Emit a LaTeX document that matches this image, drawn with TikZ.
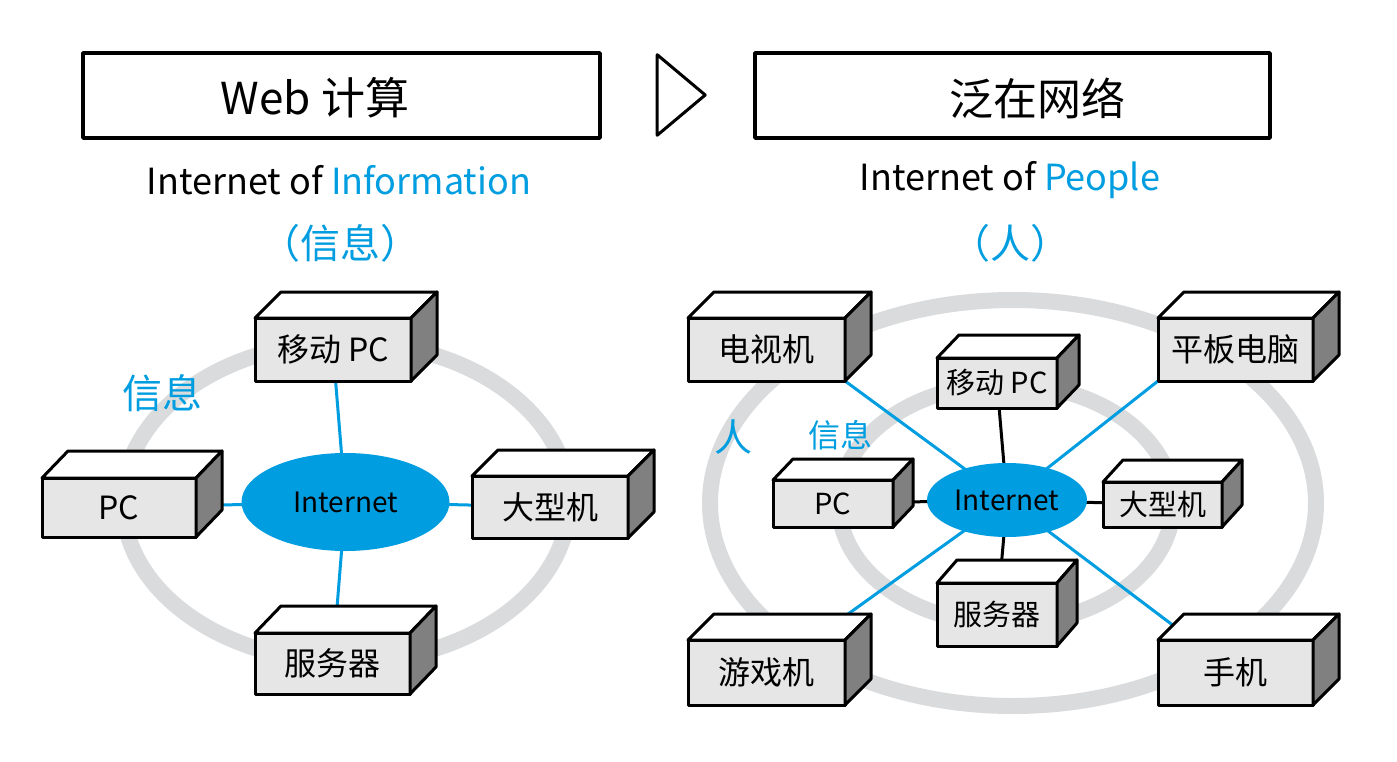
\documentclass[tikz,border=0pt]{standalone}
\usepackage{fontspec}
\setmainfont{Noto Sans CJK SC}
\usetikzlibrary{shapes.geometric}
\definecolor{iblue}{RGB}{0,158,224}
\definecolor{ringgray}{RGB}{218,219,220}
\definecolor{facegray}{RGB}{230,230,230}
\definecolor{sidegray}{RGB}{128,128,128}
\pgfdeclarelayer{bg}
\pgfsetlayers{bg,main}
\tikzset{
  edge/.style={draw=black, line width=3pt, line join=round},
  front/.style={edge, fill=facegray, inner sep=0pt, outer sep=0pt, font=\fontsize{32}{34}\selectfont},
  smallfront/.style={front, font=\fontsize{29}{31}\selectfont},
  ring/.style={draw=ringgray, line width=16pt},
  bluelink/.style={draw=iblue, line width=3pt},
  blacklink/.style={draw=black, line width=3pt},
  inet/.style={ellipse, fill=iblue, inner sep=0pt, outer sep=0pt, font=\fontsize{28}{30}\selectfont},
  titlebox/.style={edge, line width=3.5pt, fill=white},
  titletext/.style={font=\fontsize{44}{46}\selectfont},
  subtext/.style={font=\fontsize{36}{38}\selectfont},
  bluetext/.style={text=iblue},
}
\newcommand{\cubebox}[9]{% style, name, x, y, w, h, dx, dy, text
  \node[#1, minimum width=#5pt, minimum height=#6pt] (#2) at (#3,#4) {#9};
  \draw[edge, fill=white] (#2.north west) -- ++(#7,-#8) -- ([shift={(#7,-#8)}]#2.north east) -- (#2.north east) -- cycle;
  \draw[edge, fill=sidegray] (#2.north east) -- ++(#7,-#8) -- ([shift={(#7,-#8)}]#2.south east) -- (#2.south east) -- cycle;
}
\begin{document}
\begin{tikzpicture}[x=1pt,y=-1pt]
\useasboundingbox (0,0) rectangle (1397,762);

% titles
\node[titlebox, minimum width=517pt, minimum height=85pt] (tl) at (341.5,95.5) {};
\node[titletext] (tlt) at (315,98) {Web 计算};
\node[draw=black, line width=3pt, line join=round, isosceles triangle, isosceles triangle apex angle=80, minimum height=48pt, minimum width=80pt, inner sep=0pt] (arrow) at (676,95) {};
\node[titlebox, minimum width=515pt, minimum height=85pt] (tr) at (1012.5,95.5) {};
\node[titletext] (trt) at (1037,98) {泛在网络};

\node[subtext] (iol) at (339,180) {Internet of \textcolor{iblue}{Information}};
\node[subtext, bluetext, font=\fontsize{40}{42}\selectfont] (xxl) at (340,243) {（信息）};
\node[subtext] (iop) at (1010,180) {Internet of \textcolor{iblue}{People}};
\node[subtext, bluetext, font=\fontsize{40}{42}\selectfont] (rrl) at (1010,243) {（人）};

% left diagram
\node[inet, minimum width=208pt, minimum height=98pt] (inetL) at (345.5,502) {Internet};
\cubebox{front}{mpcL}{333}{349.5}{156}{63}{26}{26}{移动 PC}
\cubebox{front}{pcL}{119}{507.5}{154}{59}{26}{27}{PC}
\cubebox{front}{mainL}{550}{507}{156}{62}{26}{26}{大型机}
\cubebox{front}{srvL}{332.5}{663.5}{155}{61}{26}{27}{服务器}
\node[bluetext, font=\fontsize{40}{42}\selectfont] (infoL) at (162,393) {信息};

% right diagram
\node[inet, minimum width=160pt, minimum height=74pt] (inetR) at (1007,500) {Internet};
\cubebox{front}{tv}{766.5}{349.5}{157}{63}{26}{26}{电视机}
\cubebox{front}{tab}{1235.5}{349.5}{155}{63}{26}{26}{平板电脑}
\cubebox{front}{game}{766.5}{672.5}{157}{65}{26}{26}{游戏机}
\cubebox{front}{phone}{1235.5}{672.5}{155}{65}{26}{26}{手机}
\cubebox{smallfront}{mpcR}{997}{383}{120}{50}{22}{23}{移动 PC}
\cubebox{smallfront}{pcR}{833}{503.5}{120}{47}{20}{21}{PC}
\cubebox{smallfront}{mainR}{1162.5}{504.5}{119}{45}{20}{22}{大型机}
\cubebox{smallfront}{srvR}{997}{614.5}{120}{63}{20}{23}{服务器}
\node[bluetext, font=\fontsize{38}{40}\selectfont] (people) at (733,437) {人};
\node[bluetext, font=\fontsize{32}{34}\selectfont] (infoR) at (840,435) {信息};

\begin{pgfonlayer}{bg}
  \fill[white] (0,0) rectangle (1397,762);
  \draw[ring] (346,502) ellipse [x radius=223pt, y radius=160pt];
  \draw[ring] (1013,503) ellipse [x radius=303pt, y radius=203pt];
  \draw[ring] (1006,504) ellipse [x radius=167pt, y radius=120pt];
  \draw[bluelink] (inetL.center) -- (mpcL.center);
  \draw[bluelink] (inetL.center) -- (pcL.center);
  \draw[bluelink] (inetL.center) -- (mainL.center);
  \draw[bluelink] (inetL.center) -- (srvL.center);
  \draw[bluelink] (inetR.center) -- (tv.south east);
  \draw[bluelink] (inetR.center) -- (tab.south west);
  \draw[bluelink] (inetR.center) -- (game.center);
  \draw[bluelink] (inetR.center) -- (phone.center);
  \draw[blacklink] (inetR.center) -- (mpcR.center);
  \draw[blacklink] (inetR.center) -- (pcR.center);
  \draw[blacklink] (inetR.center) -- (mainR.center);
  \draw[blacklink] (inetR.center) -- (srvR.center);
\end{pgfonlayer}
\end{tikzpicture}
\end{document}
